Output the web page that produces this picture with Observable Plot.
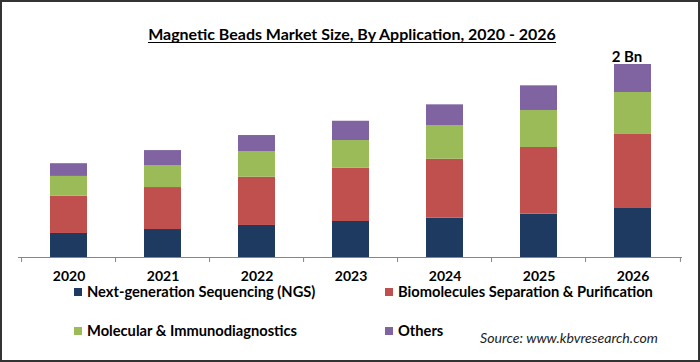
<!DOCTYPE html>
<html>
<head>
<meta charset="utf-8">
<script src="https://cdn.jsdelivr.net/npm/d3@7"></script>
<script src="https://cdn.jsdelivr.net/npm/@observablehq/plot@0.6"></script>
<style>
html, body { margin: 0; padding: 0; background: #fff; }
#wrap { position: relative; width: 700px; height: 362px; overflow: hidden; background: #fff; font-family: Lato, "Open Sans", sans-serif; }
#chart { position: absolute; left: 0; top: 0; }
#overlay { position: absolute; left: 0; top: 0; }
#frame { position: absolute; left: 0; top: 0; width: 700px; height: 362px; box-sizing: border-box; border: 2px solid #333; pointer-events: none; }
</style>
</head>
<body>
<div id="wrap">
  <div id="chart"></div>
  <div id="frame"></div>
</div>
<script>
// ---- data (USD million) ----
const years = ["2020", "2021", "2022", "2023", "2024", "2025", "2026"];
const ngs = [249, 290, 332, 373, 407, 449, 508];
const biomolecules = [387, 435, 500, 552, 611, 691, 767];
const molecular = [204, 228, 266, 287, 346, 383, 435];
const others = [132, 155, 166, 200, 218, 256, 290];
const seriesNames = [
  "Next-generation Sequencing (NGS)",
  "Biomolecules Separation & Purification",
  "Molecular & Immunodiagnostics",
  "Others"
];
const seriesColors = ["#1F3A60", "#C0504D", "#9BBB59", "#8064A2"];
const peakLabel = "2 Bn";
const titleText = "Magnetic Beads Market Size, By Application, 2020 - 2026";
const sourceText = "Source: www.kbvresearch.com";

// ---- table for the library ----
const seriesValues = [ngs, biomolecules, molecular, others];
const rows = [];
years.forEach((yr, i) => seriesValues.forEach((vals, s) => rows.push({year: yr, series: seriesNames[s], value: vals[i]})));
const totals = years.map((yr, i) => ({year: yr, total: d3.sum(seriesValues, v => v[i])}));
const peak = totals[totals.length - 1];

// ---- layout ----
const W = 700, H = 300;
const mLeft = 18, mRight = 18, mTop = 64, mBottom = 43;
const step = (W - mLeft - mRight) / years.length;
const axisColor = "#868686";

const chart = Plot.plot({
  width: W,
  height: H,
  marginLeft: mLeft,
  marginRight: mRight,
  marginTop: mTop,
  marginBottom: mBottom,
  style: {fontFamily: "Lato, 'Open Sans', sans-serif", background: "transparent"},
  x: {type: "band", domain: years, paddingInner: 0.61, paddingOuter: 0.305, label: null},
  y: {domain: [0, 2000], axis: null},
  color: {domain: seriesNames, range: seriesColors},
  marks: [
    Plot.barY(rows, {x: "year", y: "value", fill: "series"}),
    Plot.ruleY([0], {stroke: axisColor, strokeWidth: 1}),
    Plot.ruleX(years, {x: d => d, y1: d => 0, y2: d => 0, insetBottom: -5, dx: -step / 2, stroke: axisColor}),
    Plot.ruleX([years[years.length - 1]], {x: d => d, y1: d => 0, y2: d => 0, insetBottom: -5, dx: step / 2, stroke: axisColor}),
    Plot.axisX({tickSize: 0, tickPadding: 14, fontSize: 14, fontWeight: "bold", color: "#000", fill: "#000", label: null}),
    Plot.text([peak], {x: "year", y: "total", text: d => peakLabel, dy: -7, dx: -6, lineAnchor: "middle", fontSize: 15, fontWeight: "bold", fill: "#000"})
  ]
});
document.getElementById("chart").appendChild(chart);

// ---- title, legend, source ----
const svg = d3.select("#wrap").insert("svg", "#frame")
  .attr("id", "overlay").attr("width", W).attr("height", 362)
  .style("font-family", "Lato, 'Open Sans', sans-serif");

function fit(sel, target) {
  const w = sel.node().getComputedTextLength();
  const s = parseFloat(sel.attr("font-size"));
  sel.attr("font-size", (s * target / w).toFixed(2));
}

const title = svg.append("text").attr("x", 352).attr("y", 40).attr("text-anchor", "middle")
  .attr("font-size", 16).attr("font-weight", "bold").attr("fill", "#000").text(titleText);
fit(title, 408);
svg.append("line").attr("x1", 148).attr("x2", 556).attr("y1", 42.5).attr("y2", 42.5)
  .attr("stroke", "#000").attr("stroke-width", 1.2);

const legendPos = [
  {sx: 74, tx: 87, y: 292},
  {sx: 385, tx: 398, y: 292},
  {sx: 74, tx: 87, y: 331},
  {sx: 385, tx: 398, y: 331}
];
// common font size fitted to the longest entry
const probe = svg.append("text").attr("font-size", 15).attr("font-weight", "bold").text(seriesNames[1]);
fit(probe, 255);
const legendSize = probe.attr("font-size");
probe.remove();
seriesNames.forEach((name, i) => {
  const p = legendPos[i];
  svg.append("rect").attr("x", p.sx).attr("y", p.y - 4).attr("width", 8).attr("height", 8).attr("fill", seriesColors[i]);
  svg.append("text").attr("x", p.tx).attr("y", p.y + 5).attr("font-size", legendSize)
    .attr("font-weight", "bold").attr("fill", "#000").text(name);
});

const src = svg.append("text").attr("x", 480).attr("y", 343).attr("font-size", 14)
  .attr("font-style", "italic").attr("fill", "#222").text(sourceText);
fit(src, 178);
</script>
</body>
</html>
